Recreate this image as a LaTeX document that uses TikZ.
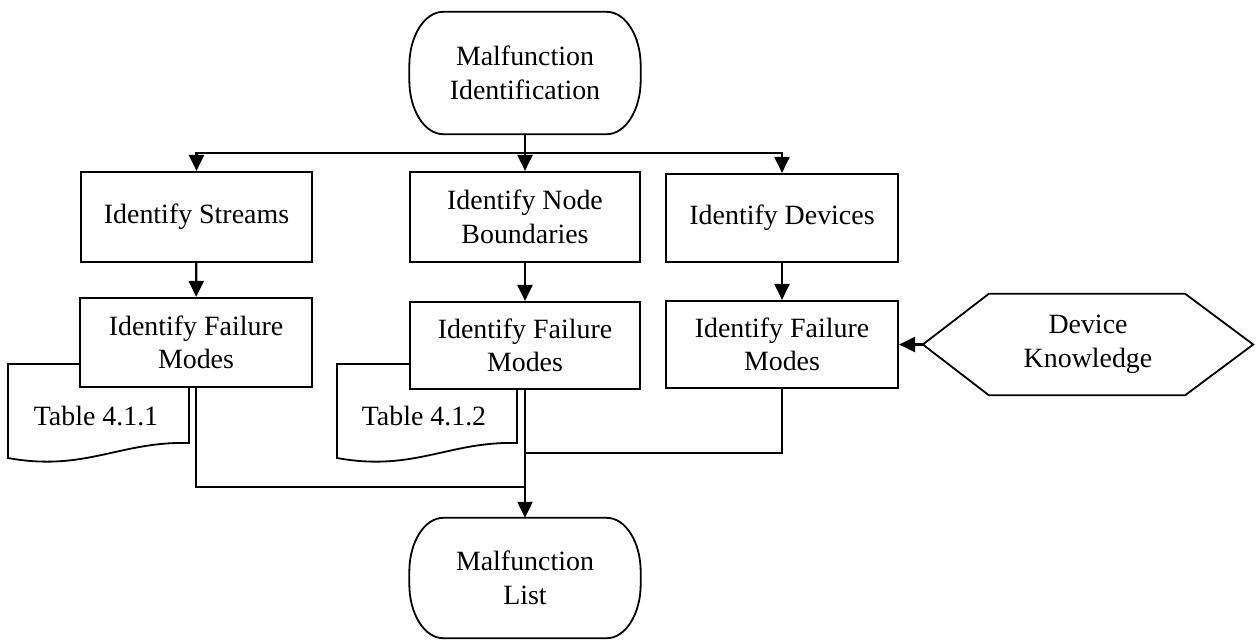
\documentclass[tikz,border=0pt]{standalone}
\usepackage{fontspec}
\setmainfont{Liberation Serif}
\usetikzlibrary{arrows.meta}
\newcommand\termshape[1]{%
  \draw[outl] ([xshift=34pt]#1.north west) -- ([xshift=-34pt]#1.north east)
    arc[start angle=90,end angle=0,x radius=34pt,y radius=54pt]
    -- ([yshift=54pt]#1.south east)
    arc[start angle=0,end angle=-90,x radius=34pt,y radius=54pt]
    -- ([xshift=34pt]#1.south west)
    arc[start angle=270,end angle=180,x radius=34pt,y radius=54pt]
    -- ([yshift=-54pt]#1.north west)
    arc[start angle=180,end angle=90,x radius=34pt,y radius=54pt] -- cycle;}
\begin{document}
\begin{tikzpicture}[x=1pt,y=-1pt,
  font=\fontsize{27.9}{33.5}\selectfont,
  box/.style={draw, line width=2.2pt, fill=white, align=center, inner sep=0pt},
  txt/.style={align=center, inner sep=0pt},
  conn/.style={line width=2.2pt},
  arr/.style={conn, -{Triangle[width=15pt,length=16pt]}},
  outl/.style={line width=1.8pt, line join=miter}]
\useasboundingbox (0,0) rectangle (1257,641);
% documents (behind the boxes)
\draw[outl, fill=white] (8,364) -- (189,364) -- (189,443)
  .. controls (120,441) and (85,472) .. (8,458) -- cycle;
\draw[outl, fill=white] (337,364) -- (517,364) -- (517,443)
  .. controls (449,441) and (414,472) .. (337,458) -- cycle;
\node[txt] (t1) at (96,416) {Table 4.1.1};
\node[txt] (t2) at (424,416) {Table 4.1.2};
% terminals
\node[txt, minimum width=231pt, minimum height=122pt] (start) at (525,73) {Malfunction\\Identification};
\termshape{start}
\node[txt, minimum width=231pt, minimum height=120pt] (list) at (525,578) {Malfunction\\List};
\termshape{list}
% boxes
\node[box, minimum width=231pt, minimum height=90pt] (B1) at (196.5,217) {Identify Streams};
\node[box, minimum width=230pt, minimum height=90pt] (B2) at (525,217) {Identify Node\\Boundaries};
\node[box, minimum width=232pt, minimum height=88pt] (B3) at (782,218) {Identify Devices};
\node[box, minimum width=232pt, minimum height=89pt] (F1) at (196,342.5) {Identify Failure\\Modes};
\node[box, minimum width=230pt, minimum height=87pt] (F2) at (525,345.5) {Identify Failure\\Modes};
\node[box, minimum width=232pt, minimum height=87pt] (F3) at (782,344.5) {Identify Failure\\Modes};
% hexagon
\node[txt, minimum width=330pt, minimum height=101pt] (dk) at (1088,344.5) {Device\\Knowledge};
\draw[outl] (dk.west) -- ([xshift=66pt]dk.north west) -- ([xshift=-68pt]dk.north east)
  -- (dk.east) -- ([xshift=-68pt]dk.south east) -- ([xshift=66pt]dk.south west) -- cycle;
% connectors
\coordinate (bus) at (525,153);
\coordinate (j1) at (525,487);
\coordinate (j3) at (525,453);
\draw[conn] (start.south) -- (bus);
\draw[arr] (bus) -- (B2.north);
\draw[arr] (bus) -| (B1.north);
\draw[arr] (bus) -| (B3.north);
\draw[arr] (B1) -- (F1);
\draw[arr] (B2) -- (F2);
\draw[arr] (B3) -- (F3);
\draw[arr] (dk.west) -- (F3.east);
\draw[conn] (F1.south) |- (j1);
\draw[conn] (F3.south) |- (j3);
\draw[arr] (F2.south) -- (list.north);
\end{tikzpicture}
\end{document}
